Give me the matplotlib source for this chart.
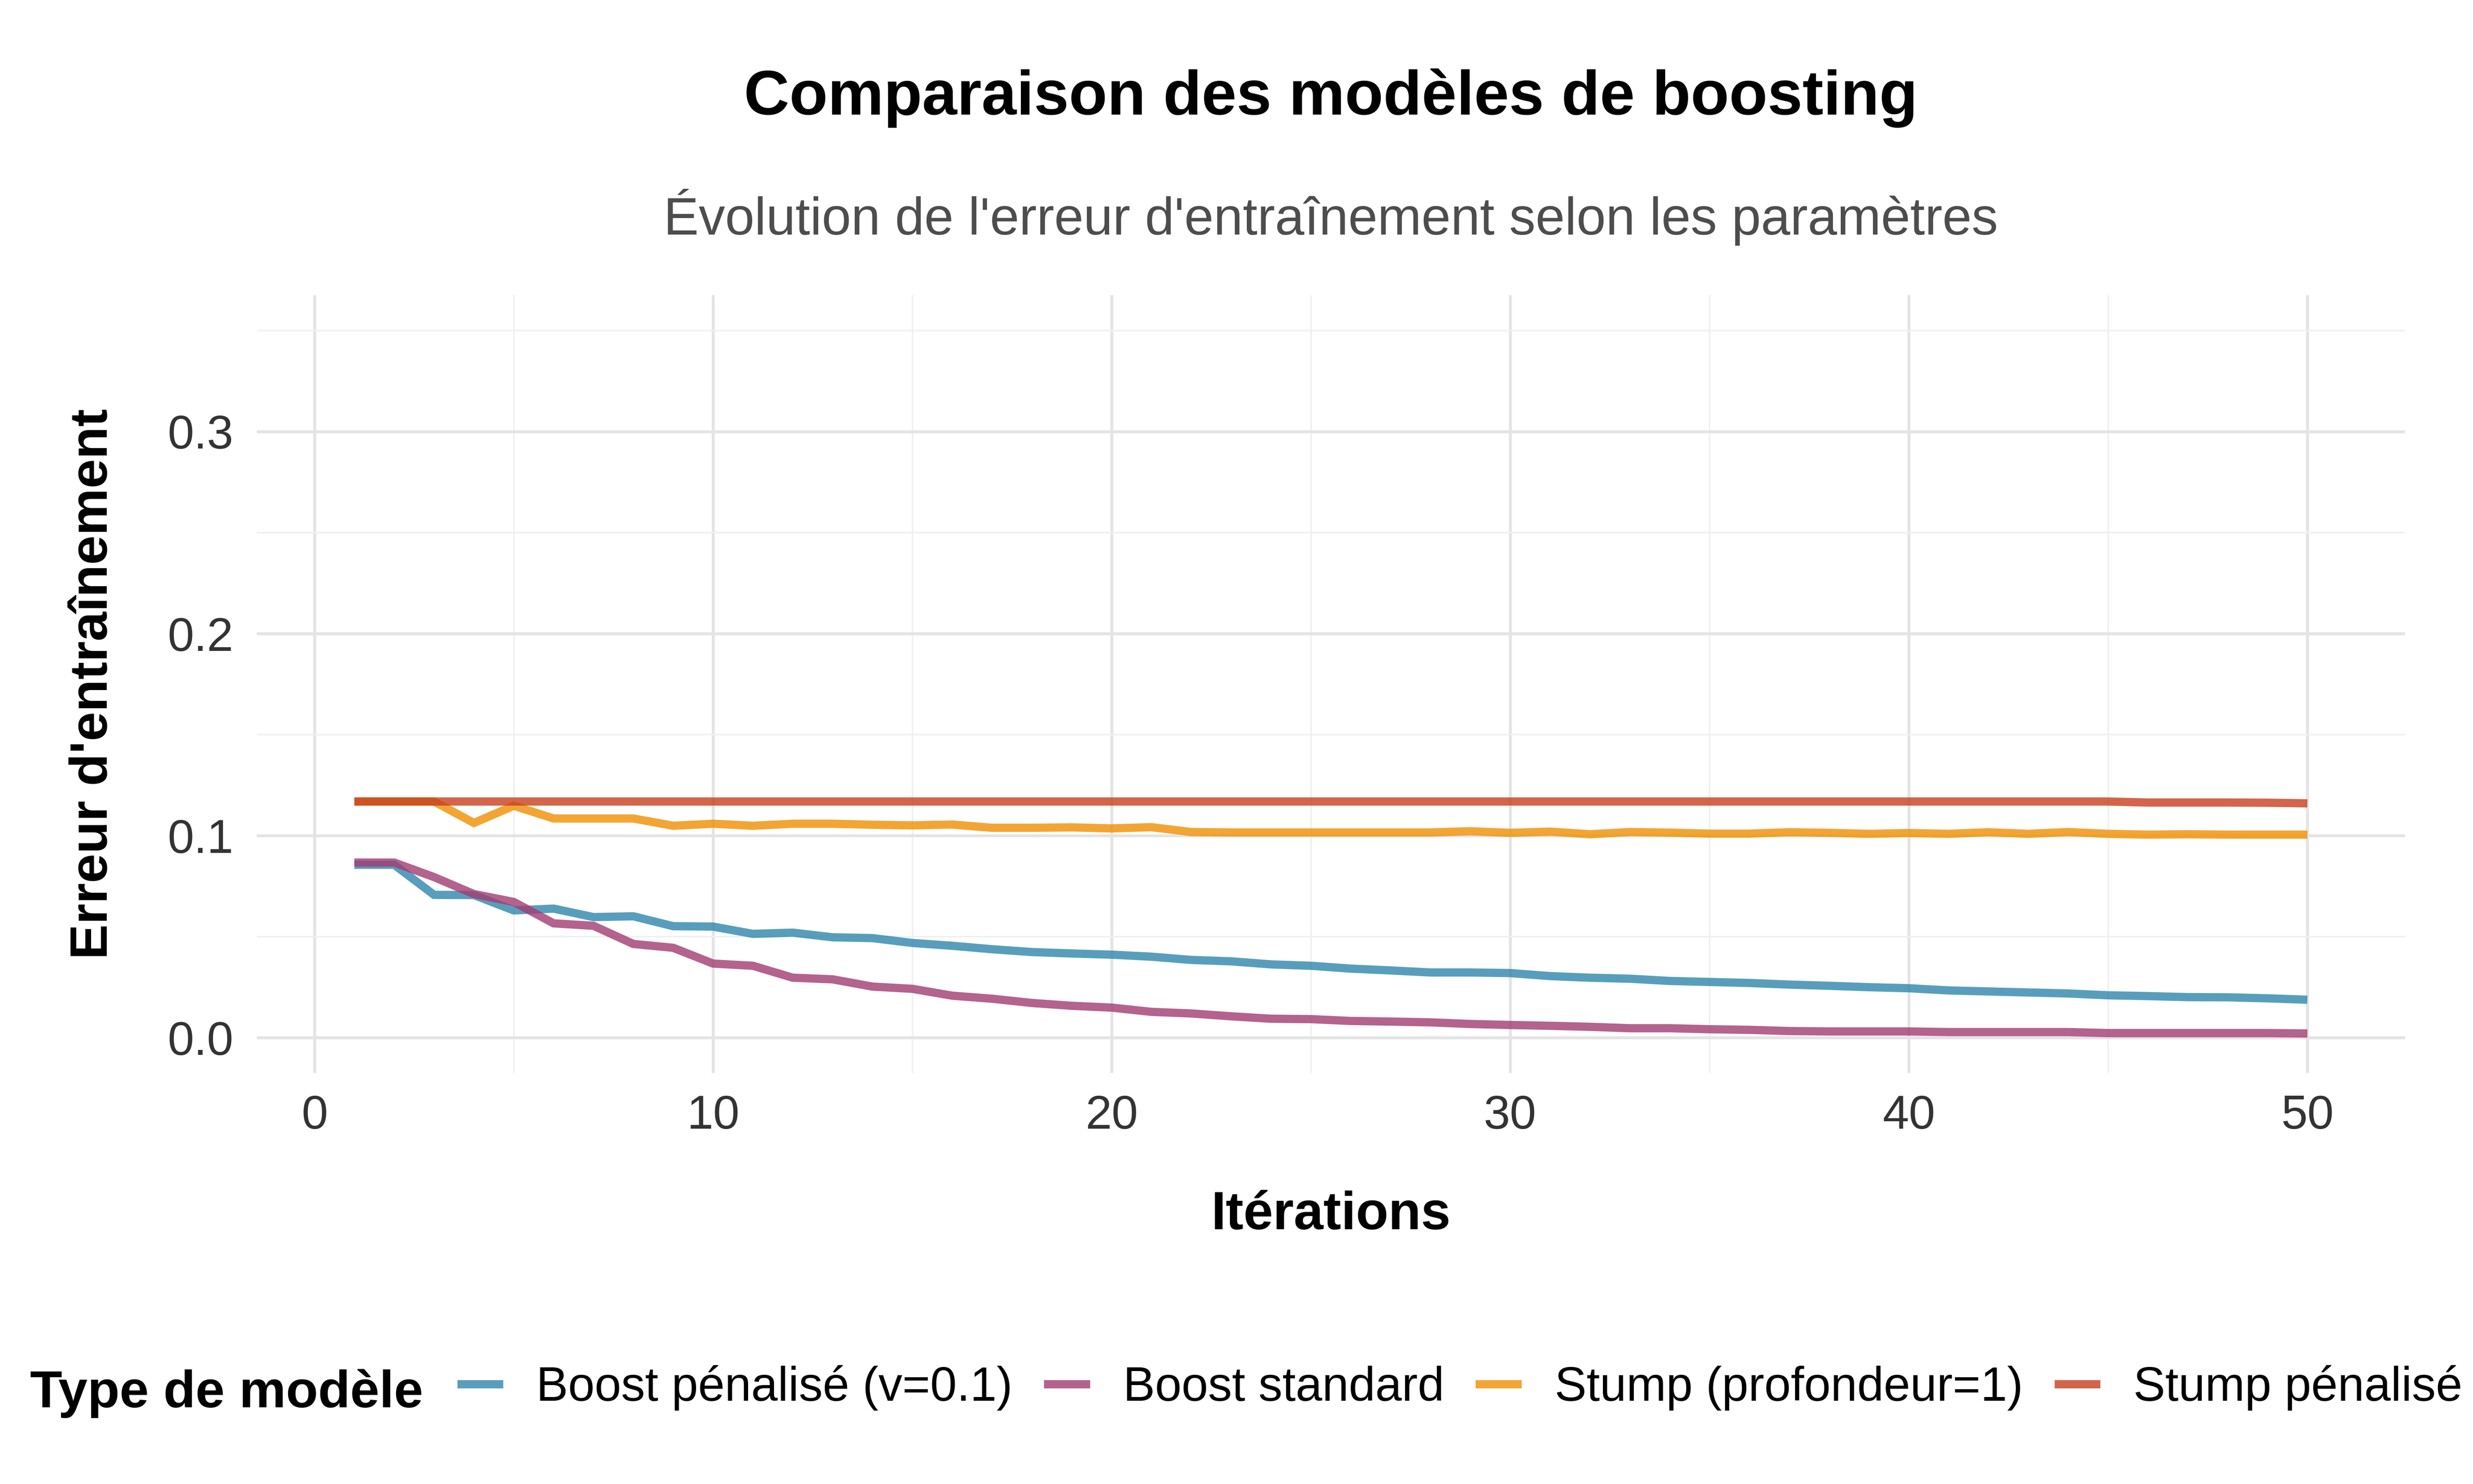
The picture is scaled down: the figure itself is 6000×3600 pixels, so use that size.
import matplotlib
matplotlib.use("Agg")
import matplotlib.pyplot as plt
from matplotlib.ticker import MultipleLocator

plt.rcParams["font.family"] = ["Liberation Sans", "DejaVu Sans"]

iterations = list(range(1, 51))

boost_penalise = [
    0.0856, 0.0856, 0.0707, 0.0706, 0.0630, 0.0639, 0.0597, 0.0601, 0.0552, 0.0550,
    0.0514, 0.0520, 0.0497, 0.0493, 0.0469, 0.0455, 0.0438, 0.0424, 0.0417, 0.0411,
    0.0401, 0.0385, 0.0378, 0.0363, 0.0356, 0.0342, 0.0333, 0.0323, 0.0323, 0.0320,
    0.0305, 0.0297, 0.0292, 0.0281, 0.0276, 0.0271, 0.0263, 0.0257, 0.0250, 0.0245,
    0.0234, 0.0229, 0.0224, 0.0219, 0.0210, 0.0206, 0.0201, 0.0200, 0.0195, 0.0188,
]
boost_standard = [
    0.0867, 0.0867, 0.0795, 0.0711, 0.0672, 0.0566, 0.0554, 0.0464, 0.0445, 0.0367,
    0.0356, 0.0297, 0.0289, 0.0253, 0.0242, 0.0208, 0.0193, 0.0172, 0.0158, 0.0149,
    0.0128, 0.0120, 0.0106, 0.0094, 0.0092, 0.0083, 0.0080, 0.0076, 0.0068, 0.0063,
    0.0059, 0.0054, 0.0047, 0.0047, 0.0042, 0.0039, 0.0033, 0.0031, 0.0031, 0.0031,
    0.0028, 0.0028, 0.0028, 0.0028, 0.0023, 0.0023, 0.0023, 0.0023, 0.0023, 0.0021,
]
stump = [
    0.1169, 0.1169, 0.1169, 0.1063, 0.1148, 0.1085, 0.1085, 0.1085, 0.1049, 0.1059,
    0.1049, 0.1059, 0.1059, 0.1054, 0.1051, 0.1055, 0.1039, 0.1039, 0.1041, 0.1036,
    0.1042, 0.1018, 0.1016, 0.1016, 0.1016, 0.1016, 0.1016, 0.1016, 0.1022, 0.1014,
    0.1020, 0.1007, 0.1018, 0.1015, 0.1010, 0.1010, 0.1017, 0.1014, 0.1009, 0.1013,
    0.1009, 0.1017, 0.1009, 0.1018, 0.1009, 0.1005, 0.1007, 0.1005, 0.1005, 0.1005,
]
stump_penalise = [0.1169] * 45 + [0.1164, 0.1164, 0.1164, 0.1163, 0.1160]

labels = ["Boost pénalisé (v=0.1)", "Boost standard", "Stump (profondeur=1)", "Stump pénalisé"]
colors = ["#2E86AB", "#A23B72", "#F18F01", "#C73E1D"]
series = [boost_penalise, boost_standard, stump, stump_penalise]

fig = plt.figure(figsize=(10, 6), dpi=600)
ax = fig.add_axes([0.1038, 0.2769, 0.9725 - 0.1038, 0.8011 - 0.2769])

handles = []
for vals, col, lab in zip(series, colors, labels):
    (ln,) = ax.plot(iterations, vals, color=col, alpha=0.8, lw=2.4, label=lab,
                    solid_joinstyle="miter", solid_capstyle="butt")
    handles.append(ln)

ax.set_xlim(-1.45, 52.45)
ax.set_ylim(-0.0175, 0.3675)
ax.xaxis.set_major_locator(MultipleLocator(10))
ax.xaxis.set_minor_locator(MultipleLocator(5))
ax.yaxis.set_major_locator(MultipleLocator(0.1))
ax.yaxis.set_minor_locator(MultipleLocator(0.05))
ax.yaxis.set_major_formatter(lambda v, p: f"{v:.1f}")

ax.grid(which="major", color="#E4E4E4", lw=0.85)
ax.grid(which="minor", color="#F0F0F0", lw=0.45)
ax.set_axisbelow(True)
for s in ax.spines.values():
    s.set_visible(False)
ax.tick_params(which="both", length=0)
ax.tick_params(axis="x", pad=6.2, labelsize=13.8, labelcolor="#333333")
ax.tick_params(axis="y", pad=6.8, labelsize=13.8, labelcolor="#333333")

ax.set_xlabel("Itérations", fontsize=15.5, fontweight="bold")
ax.xaxis.label.set_va("baseline")
ax.xaxis.set_label_coords(0.5, (2603 - 2982) / (2603 - 716))

ax.set_ylabel("Erreur d'entraînement", fontsize=15.4, fontweight="bold")
ax.yaxis.label.set_rotation_mode("anchor")
ax.yaxis.label.set_va("baseline")
ax.yaxis.label.set_ha("center")
ax.yaxis.set_label_coords((260 - 623) / (5835 - 623), 0.5)

cx = 0.5 * (0.1038 + 0.9725)
fig.text(cx, 1 - 278 / 3600, "Comparaison des modèles de boosting",
         ha="center", va="baseline", fontsize=18.3, fontweight="bold")
fig.text(cx, 1 - 569 / 3600, "Évolution de l'erreur d'entraînement selon les paramètres",
         ha="center", va="baseline", fontsize=15.35, color="#4D4D4D")

fig.text(73 / 6000, 1 - 3414 / 3600, "Type de modèle",
         ha="left", va="baseline", fontsize=15.3, fontweight="bold")
fig.legend(handles, labels, ncol=4, loc="center left",
           bbox_to_anchor=(1110 / 6000, 1 - 3367 / 3600),
           frameon=False, borderpad=0, borderaxespad=0,
           handlelength=0.96, handletextpad=0.69, columnspacing=0.66,
           fontsize=13.92)

fig.savefig("out.png", dpi=600, facecolor="white")
